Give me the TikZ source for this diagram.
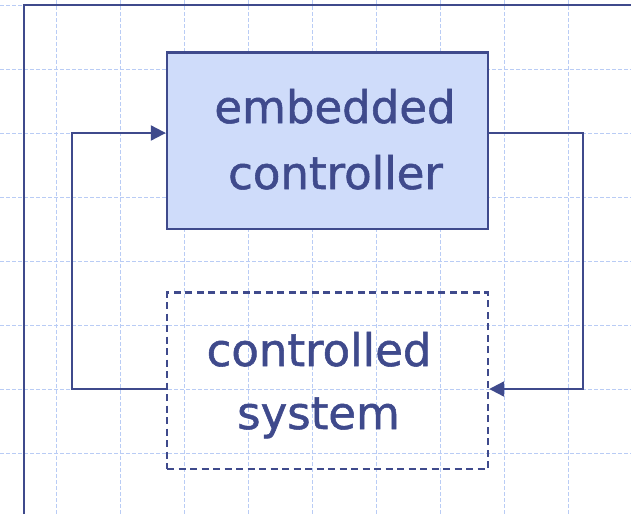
\documentclass[tikz,border=0pt]{standalone}
\usepackage{fontspec}
\setmainfont{DejaVu Sans}[FakeBold=1.2]
\usetikzlibrary{arrows.meta}
\definecolor{ink}{HTML}{3F4A8C}
\definecolor{boxfill}{HTML}{CFDCFA}
\definecolor{gridc}{HTML}{B9CCF5}
\tikzset{
  gridline/.style={draw=gridc, line width=1pt, dash pattern=on 4pt off 2pt},
  frameline/.style={draw=ink, line width=2.6pt},
  solidbox/.style={draw=ink, fill=boxfill, line width=2.4pt, minimum width=321pt, minimum height=176.5pt, inner sep=0pt},
  dashbox/.style={draw=ink, line width=2.4pt, dash pattern=on 7pt off 4.5pt, minimum width=321pt, minimum height=176.5pt, inner sep=0pt},
  wire/.style={draw=ink, line width=2.2pt},
  arr/.style={-{Triangle[length=15pt,width=15pt]}},
  lbl/.style={text=ink, font=\fontsize{45}{54}\selectfont, anchor=base, inner sep=0pt}
}
\begin{document}
\begin{tikzpicture}[x=1pt,y=-1pt]
\useasboundingbox (0,0) rectangle (631,514);
% grid
\foreach \gx in {56,120,...,568} \draw[gridline] (\gx,0) -- (\gx,514);
\foreach \gy in {5,69,...,453} \draw[gridline] (0,\gy) -- (631,\gy);
% frame
\draw[frameline] (24,514) -- (24,5) -- (631,5);
% boxes
\node[solidbox] (ec) at (327.5,140.75) {};
\node[dashbox] (cs) at (327.5,380.75) {};
% labels
\node[lbl] (t1) at (335,123) {embedded};
\node[lbl] (t2) at (335.5,189) {controller};
\node[lbl] (t3) at (319,366) {controlled};
\node[lbl] (t4) at (318.5,429) {system};
% connectors
\coordinate (lt) at (72,133);
\coordinate (lb) at (72,389);
\coordinate (rt) at (583,133);
\coordinate (rb) at (583,389);
\draw[wire,arr] (cs.west |- lb) -- (lb) -- (lt) -- (ec.west |- lt);
\draw[wire,arr] (ec.east |- rt) -- (rt) -- (rb) -- (cs.east |- rb);
\end{tikzpicture}
\end{document}
